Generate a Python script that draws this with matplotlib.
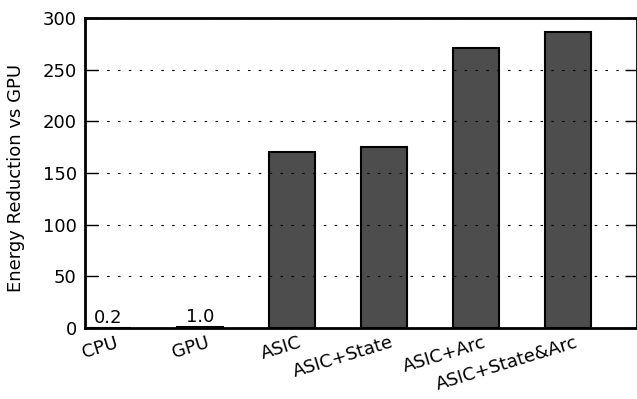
import matplotlib
matplotlib.use("Agg")
import matplotlib.pyplot as plt
import numpy as np

categories = ["CPU", "GPU", "ASIC", "ASIC+State", "ASIC+Arc", "ASIC+State&Arc"]
values = [0.2, 1.0, 170.5, 175.5, 271.0, 286.5]
annotated = {0: "0.2", 1: "1.0"}
yticks = [0, 50, 100, 150, 200, 250, 300]

plt.rcParams['font.family'] = ['DejaVu Sans']
fig = plt.figure(figsize=(6.37, 3.99), dpi=100)
ax = fig.add_axes([0.1334, 0.178, 0.8666, 0.777])

x = np.arange(len(categories))
width = 0.5
ax.bar(x, values, width=width, align='edge', color='#4d4d4d', edgecolor='black', linewidth=1.5, zorder=1)

for i, txt in annotated.items():
    ax.text(x[i] + width / 2, values[i] + 1, txt, ha='center', va='bottom', fontsize=13)

ax.set_xlim(0, 6)
ax.set_ylim(0, 300)
ax.set_yticks(yticks)
ax.set_xticks(x + 0.38)
ax.set_xticklabels(categories, rotation=17, ha='right', fontsize=13)
ax.tick_params(axis='x', length=0, pad=4)
ax.tick_params(axis='y', direction='in', length=9, width=1, labelsize=13, right=True, pad=6)
ax.set_ylabel("Energy Reduction vs GPU", fontsize=13)
ax.yaxis.set_label_coords(-0.108, 0.4855)
ax.yaxis.grid(True, color='black', linestyle=(0, (2.25, 7.5)), linewidth=0.8)
ax.set_axisbelow(False)
for s in ax.spines.values():
    s.set_linewidth(2)

fig.savefig("out.png", dpi=100)
